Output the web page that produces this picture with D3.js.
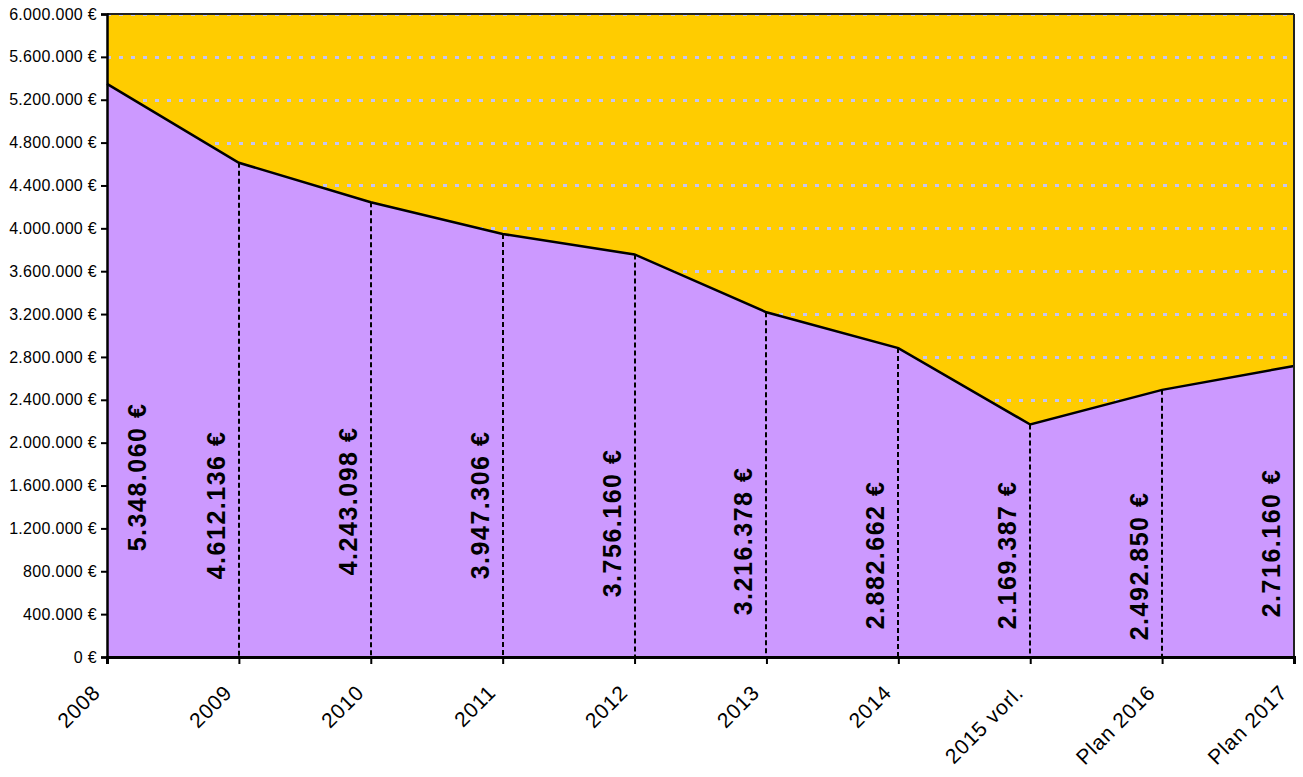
<!DOCTYPE html>
<html>
<head>
<meta charset="utf-8">
<script src="https://cdnjs.cloudflare.com/ajax/libs/d3/7.8.5/d3.min.js"></script>
<style>
  body { margin: 0; background: #fff; }
  text { font-family: Arial, "Liberation Sans", sans-serif; fill: #000; }
</style>
</head>
<body>
<svg id="chart"></svg>
<script>
// data
var years = ["2008", "2009", "2010", "2011", "2012", "2013", "2014", "2015 vorl.", "Plan 2016", "Plan 2017"];
var amounts = [5348060, 4612136, 4243098, 3947306, 3756160, 3216378, 2882662, 2169387, 2492850, 2716160];
var yTicks = [0, 400000, 800000, 1200000, 1600000, 2000000, 2400000, 2800000, 3200000, 3600000, 4000000, 4400000, 4800000, 5200000, 5600000, 6000000];

// label placement (manually moved in the original), pixel centre y
var labelMidY = [477, 505, 501, 505, 523, 541, 555, 555, 566, 543];

var W = 1303, H = 777;
var margin = {top: 14, right: 9, bottom: 120, left: 107};
var width = W - margin.left - margin.right,
    height = H - margin.top - margin.bottom;

var fmt = function(v) {
  return d3.format(",")(v).replace(/,/g, ".") + " €";
};

var svg = d3.select("#chart")
  .attr("width", W)
  .attr("height", H)
  .append("g")
  .attr("transform", "translate(" + margin.left + "," + margin.top + ")");

var x = d3.scalePoint()
  .domain(years)
  .range([0, width]);

var y = d3.scaleLinear()
  .domain([0, 6000000])
  .range([height, 0]);

// plot background
svg.append("rect")
  .attr("width", width)
  .attr("height", height)
  .style("fill", "#FFCC00");

// grid lines
svg.append("g")
  .selectAll("line")
  .data(yTicks.filter(function(d) { return d > 0; }))
  .enter()
  .append("line")
    .attr("x1", 0)
    .attr("x2", width)
    .attr("y1", function(d) { return Math.round(y(d)) + 0.5; })
    .attr("y2", function(d) { return Math.round(y(d)) + 0.5; })
    .style("stroke", "#C4C4F2")
    .style("stroke-width", 3)
    .style("stroke-dasharray", "4,8");

// area
var pts = years.map(function(c, i) { return {c: c, v: amounts[i]}; });

svg.append("path")
  .datum(pts)
  .attr("d", d3.area()
    .x(function(d) { return x(d.c); })
    .y0(height)
    .y1(function(d) { return y(d.v); }))
  .style("fill", "#CC99FF");

// drop lines
svg.append("g")
  .selectAll("line")
  .data(pts.slice(1))
  .enter()
  .append("line")
    .attr("x1", function(d) { return Math.round(x(d.c)); })
    .attr("x2", function(d) { return Math.round(x(d.c)); })
    .attr("y1", function(d) { return y(d.v); })
    .attr("y2", height)
    .style("stroke", "#000")
    .style("stroke-width", 2)
    .style("stroke-dasharray", "5,3");

svg.append("path")
  .datum(pts)
  .attr("d", d3.line()
    .x(function(d) { return x(d.c); })
    .y(function(d) { return y(d.v); }))
  .style("fill", "none")
  .style("stroke", "#000")
  .style("stroke-width", 2.5);

// border top / right
svg.append("line")
  .attr("x1", 0).attr("x2", width)
  .attr("y1", 0).attr("y2", 0)
  .style("stroke", "#222").style("stroke-width", 2);
svg.append("line")
  .attr("x1", width).attr("x2", width)
  .attr("y1", 0).attr("y2", height)
  .style("stroke", "#222").style("stroke-width", 2);

// Y axis
var yAxis = svg.append("g")
  .call(d3.axisLeft(y).tickValues(yTicks).tickFormat(fmt).tickSizeOuter(0).tickSize(6).tickPadding(4));
yAxis.select(".domain").style("stroke", "#000").style("stroke-width", 2.5);
yAxis.selectAll(".tick line").style("stroke", "#000").style("stroke-width", 2);
yAxis.selectAll("text")
  .style("font-family", "Arial, 'Liberation Sans', sans-serif")
  .style("font-size", "16px")
  .style("letter-spacing", "0.3px")
  .style("fill", "#000");

// X axis
var xAxis = svg.append("g")
  .attr("transform", "translate(0," + height + ")")
  .call(d3.axisBottom(x).tickSizeOuter(0).tickSize(7));
xAxis.select(".domain").style("stroke", "#000").style("stroke-width", 3);
xAxis.selectAll(".tick line").style("stroke", "#000").style("stroke-width", 2);
xAxis.selectAll("text")
  .style("font-family", "Arial, 'Liberation Sans', sans-serif")
  .style("font-size", "21px")
  .style("letter-spacing", "0.8px")
  .style("fill", "#000")
  .style("text-anchor", "end")
  .attr("x", 0)
  .attr("y", 0)
  .attr("dy", 0)
  .attr("transform", "translate(-6,37) rotate(-45)");

// value labels
svg.append("g")
  .selectAll("text")
  .data(pts)
  .enter()
  .append("text")
    .attr("transform", function(d, i) {
      var cx = x(d.c) + (i === 0 ? 30 : -23);
      return "translate(" + cx + "," + (labelMidY[i] - margin.top) + ") rotate(-90)";
    })
    .attr("dy", "0.36em")
    .style("text-anchor", "middle")
    .style("font-size", "25px")
    .style("font-weight", "bold")
    .style("letter-spacing", "1.5px")
    .text(function(d) { return fmt(d.v); });
</script>
</body>
</html>
